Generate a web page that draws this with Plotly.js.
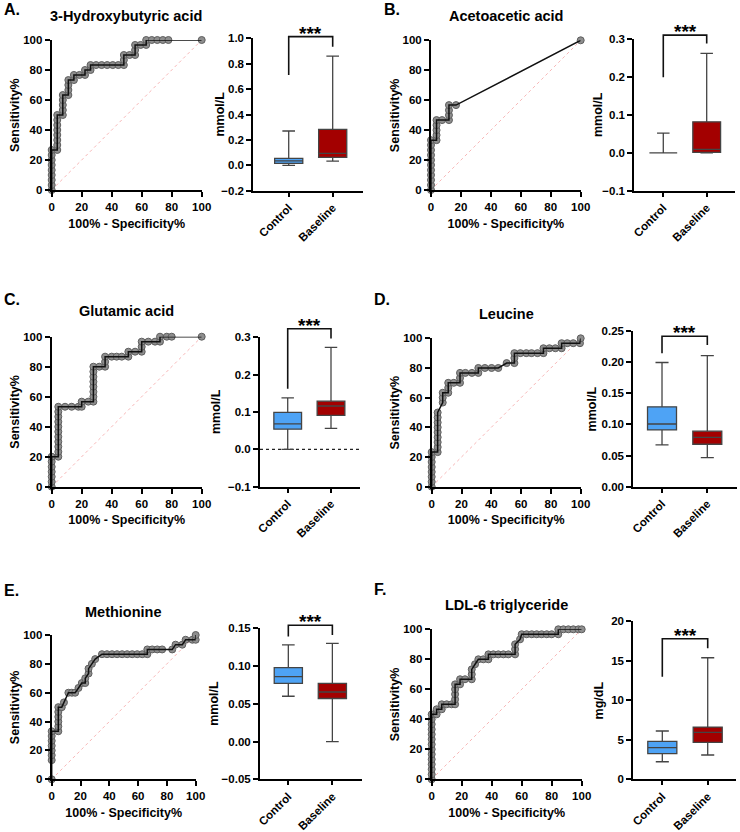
<!DOCTYPE html>
<html><head><meta charset="utf-8">
<script src="https://cdn.plot.ly/plotly-3.0.1.min.js"></script>
<style>html,body{margin:0;padding:0;background:#fff}#chart{width:740px;height:832px}</style>
</head><body><div id="chart"></div>
<script>
// ---------------- DATA ----------------
const panelLetters = ['A.', 'B.', 'C.', 'D.', 'E.', 'F.'];
const panelTitles = ['3-Hydroxybutyric acid', 'Acetoacetic acid', 'Glutamic acid', 'Leucine', 'Methionine', 'LDL-6 triglyceride'];
const boxUnits = ['mmol/L', 'mmol/L', 'mmol/L', 'mmol/L', 'mmol/L', 'mg/dL'];
const groups = ['Control', 'Baseline'];
const rocXTitle = '100% - Specificity%';
const rocYTitle = 'Sensitivity%';
const sigLabel = '***';
const refLine = [0, 100];

// ROC curves: [100% - Specificity%, Sensitivity%]
const rocA = [[0,0],[0,3.3],[0,6.7],[0,10],[0,13.3],[0,16.7],[0,20],[0,23.3],[0,26.7],
  [3.7,26.7],[3.7,30],[3.7,33.3],[3.7,36.7],[3.7,40],[3.7,43.3],[3.7,46.7],[3.7,50],
  [7.4,50],[7.4,53.3],[7.4,56.7],[7.4,60],[7.4,63.3],
  [11.1,63.3],[11.1,66.7],[11.1,70],[11.1,73.3],
  [14.8,73.3],[14.8,76.7],[18.5,76.7],[22.2,76.7],[22.2,80],[25.9,80],[25.9,83.3],
  [29.6,83.3],[33.3,83.3],[37,83.3],[40.7,83.3],[44.4,83.3],[48.1,83.3],[48.1,86.7],[48.1,90],
  [51.9,90],[55.6,90],[55.6,93.3],[55.6,96.7],[59.3,96.7],[63,96.7],[63,100],
  [66.7,100],[70.4,100],[74.1,100],[77.8,100],[100,100]];
const rocB = [[0,0],[0,3.3],[0,6.7],[0,10],[0,13.3],[0,16.7],[0,20],[0,23.3],[0,26.7],[0,30],[0,33.3],
  [3.7,33.3],[3.7,36.7],[3.7,40],[3.7,43.3],[3.7,46.7],
  [7.4,46.7],[12,46.7],[12,50],[12,53.3],[12,56.7],[16.7,56.7],[100,100]];
const rocC = [[0,0],[0,3.3],[0,6.7],[0,10],[0,13.3],[0,16.7],[0,20],
  [4.4,20],[4.4,23.3],[4.4,26.7],[4.4,30],[4.4,33.3],[4.4,36.7],[4.4,40],[4.4,43.3],[4.4,46.7],[4.4,50],[4.4,53.3],
  [8.9,53.3],[13.3,53.3],[17.8,53.3],[20,53.3],[20,56.7],[24.4,56.7],
  [27.8,56.7],[27.8,60],[27.8,63.3],[27.8,66.7],[27.8,70],[27.8,73.3],[27.8,76.7],[27.8,80],
  [31.7,80],[35.6,80],[35.6,83.3],[35.6,86.7],[40,86.7],[43.3,86.7],[46.7,86.7],[51.1,86.7],[51.1,90],
  [55.6,90],[60,90],[60,93.3],[60,96.7],[64.4,96.7],[68.9,96.7],[72.2,96.7],[72.2,100],
  [76.7,100],[80,100],[100,100]];
const rocD = [[0,0],[0,3.3],[0,6.7],[0,10],[0,13.3],[0,16.7],[0,20],[0,23.3],
  [4,23.3],[4,26.7],[4,30],[4,33.3],[4,36.7],[4,40],[4,43.3],[4,46.7],[4,50],
  [7.4,56.7],[7.4,60],[7.4,63.3],[11.1,63.3],[11.1,66.7],[11.1,70],
  [14.8,70],[19,70],[19,73.3],[19,76.7],[22.6,76.7],[27,76.7],[31.3,76.7],[31.3,80],
  [35.7,80],[40.2,80],[44.7,80],[50.3,83.3],[55.5,83.3],[55.5,86.7],[55.5,90],
  [59.5,90],[63.5,90],[67,90],[71,90],[75,90],[75,93.3],
  [79,93.3],[83,93.3],[87.2,93.3],[87.2,96.7],[91,96.7],[95,96.7],[99.5,96.7],[100,100]];
const rocE = [[0,0],[0,13.3],[0,16.7],[0,20],[0,23.3],[0,26.7],[0,30],[0,33.3],
  [4.6,33.3],[4.6,36.7],[4.6,40],[4.6,43.3],[4.6,46.7],[4.6,50],
  [7,50],[8.5,53.3],[11.6,60],[14,60],[16.3,60],[18.6,63.3],[20.9,66.7],[23.3,66.7],[23.3,70],
  [25.6,73.3],[25.6,76.7],[27.9,80],[30.2,83.3],[34.9,86.7],
  [38.4,86.7],[41.9,86.7],[45.4,86.7],[48.9,86.7],[52.4,86.7],[55.9,86.7],[59.4,86.7],[62.9,86.7],[66.4,86.7],[66.4,90],
  [69.8,90],[73.3,90],[76.7,90],[83.7,90],[86,93.3],[90.7,93.3],[93,96.7],[97.7,96.7],[100,96.7],[100,100]];
const rocF = [[0,0],[0,3.3],[0,6.7],[0,10],[0,13.3],[0,16.7],[0,20],[0,23.3],[0,26.7],[0,30],[0,33.3],[0,36.7],[0,40],[0,43.3],
  [3.3,43.3],[3.3,46.7],[6.7,46.7],[6.7,50],[10,50],[13.3,50],
  [15.6,50],[15.6,53.3],[15.6,56.7],[15.6,60],[15.6,63.3],[18.9,63.3],[18.9,66.7],[22.2,66.7],
  [26.7,66.7],[26.7,70],[26.7,73.3],[28.9,76.7],[31.1,80],[34.4,80],[37.8,80],[37.8,83.3],
  [41.1,83.3],[44.4,83.3],[47.8,83.3],[51.1,83.3],[55.6,83.3],[55.6,86.7],[55.6,90],[58.9,93.3],[60,96.7],
  [63.3,96.7],[66.7,96.7],[70,96.7],[73.3,96.7],[76.7,96.7],[80,96.7],[84.4,96.7],[84.4,100],
  [87.8,100],[91.1,100],[94.4,100],[97.8,100],[100,100]];

// Box plot summaries [Control, Baseline]
const q1A = [0.015, 0.063], medA = [0.035, 0.094], q3A = [0.055, 0.283], minA = [0.0, 0.033], maxA = [0.27, 0.86];
const q1B = [0.0, 0.001], medB = [0.0, 0.009], q3B = [0.0, 0.082], minB = [0.0, 0.0], maxB = [0.052, 0.263];
const q1C = [0.054, 0.091], medC = [0.068, 0.116], q3C = [0.099, 0.129], minC = [0.0, 0.056], maxC = [0.138, 0.273];
const q1D = [0.091, 0.068], medD = [0.1005, 0.079], q3D = [0.128, 0.089], minD = [0.067, 0.0465], maxD = [0.199, 0.21];
const q1E = [0.077, 0.057], medE = [0.086, 0.0656], q3E = [0.098, 0.077], minE = [0.060, 0.0], maxE = [0.128, 0.130];
const q1F = [3.24, 4.67], medF = [4.0, 5.94], q3F = [4.8, 6.6], minF = [2.22, 3.07], maxF = [6.1, 15.36];

// Significance brackets [left leg bottom, top, right leg bottom]
const bracketA = [0.711, 1.013, 0.934];
const bracketB = [0.200, 0.311, 0.289];
const bracketC = [0.162, 0.323, 0.297];
const bracketD = [0.2137, 0.241, 0.227];
const bracketE = [0.139, 0.154, 0.141];
const bracketF = [12.97, 17.76, 16.55];

// Box y axes: ranges, tick step, format
const boxYRanges = [[-0.2, 1.0], [-0.1, 0.3], [-0.1, 0.3], [0, 0.25], [-0.05, 0.15], [0, 20]];
const boxYDticks = [0.2, 0.1, 0.1, 0.05, 0.05, 5];
const boxYFormats = ['.1f', '.1f', '.1f', '.2f', '.2f', 'd'];
const rocTicks = [0, 20, 40, 60, 80, 100];

// ---------------- LAYOUT GEOMETRY (pixels) ----------------
const W = 740, H = 832;
const FONT = "'Liberation Sans', Arial, Helvetica, sans-serif";
const rocGeom = [[51.7,201.7,40,190],[431,580.7,40.3,190],[51.7,201.7,336.7,486.7],[431.7,580.7,338.3,486.7],[51.7,195.7,635,779.3],[431.7,581.7,629.3,779.3]];
const boxGeom = [[253.3,363,38.3,190.7],[634.3,735,39.3,190.7],[260,360,337.3,486.7],[633.3,736.7,330.7,486.7],[260,361.7,628.3,779.3],[633.3,736,621,779.3]];
const catRanges = [[-0.805,1.689],[-0.668,1.652],[-0.64,1.67],[-0.634,1.649],[-0.643,1.666],[-0.639,1.623]];
const letterPos = [[2,10],[381.7,9],[1.7,299],[371.7,299],[1.7,590],[371.7,589]];
const titlePos = [[126.3,15.5],[506.3,15.5],[126.7,311.3],[506.3,313.8],[123.7,611.7],[506.8,605]];
const rocYTitleX = [15, 395, 15, 395, 15, 395];
const boxYTitleX = [220, 598, 216, 591.7, 214, 599.3];
const BRACKET_EXT = 36; // extra px above each box panel for the bracket layer

const rocs = [rocA, rocB, rocC, rocD, rocE, rocF];
const stats = [
  [q1A, medA, q3A, minA, maxA], [q1B, medB, q3B, minB, maxB], [q1C, medC, q3C, minC, maxC],
  [q1D, medD, q3D, minD, maxD], [q1E, medE, q3E, minE, maxE], [q1F, medF, q3F, minF, maxF]];
const brackets = [bracketA, bracketB, bracketC, bracketD, bracketE, bracketF];
const boxFill = ['#4EA3F5', '#A30000'];

function xd(a, b) { return [a / W, b / W]; }
function yd(top, bot) { return [1 - bot / H, 1 - top / H]; }

const tickFont = {family: FONT, size: 11.5, color: '#000', weight: 'bold'};
const axTitleFont = {family: FONT, size: 12.5, color: '#000', weight: 'bold'};
function baseAxis() {
  return {showline: true, linecolor: '#000', linewidth: 2, ticks: 'outside', ticklen: 5, tickwidth: 2,
    tickcolor: '#000', showgrid: false, zeroline: false, tickfont: tickFont, fixedrange: true};
}

const data = [];
const layout = {width: W, height: H, margin: {l: 0, r: 0, t: 0, b: 0}, paper_bgcolor: '#fff', plot_bgcolor: 'rgba(0,0,0,0)',
  showlegend: false, annotations: [], shapes: []};

for (let p = 0; p < 6; p++) {
  const ri = 2 * p + 1, bi = 2 * p + 2, oi = 13 + p;
  const rx = 'x' + ri, ry = 'y' + ri, bx = 'x' + bi, by = 'y' + bi, oy = 'y' + oi;
  const rxk = 'xaxis' + ri, ryk = 'yaxis' + ri, bxk = 'xaxis' + bi, byk = 'yaxis' + bi, oyk = 'yaxis' + oi;
  const roc = rocs[p];
  const rxs = roc.map(d => d[0]), rys = roc.map(d => d[1]);

  // reference diagonal
  data.push({type: 'scatter', mode: 'lines', x: refLine, y: refLine, xaxis: rx, yaxis: ry,
    line: {color: '#F5A5A5', width: 0.8, dash: 'dot'}, hoverinfo: 'skip'});
  // markers then line on top
  data.push({type: 'scatter', mode: 'markers', x: rxs, y: rys, xaxis: rx, yaxis: ry, cliponaxis: false,
    marker: {size: 7, color: '#8E8E8E', line: {color: '#5E5E5E', width: 1}}});
  data.push({type: 'scatter', mode: 'lines', x: rxs, y: rys, xaxis: rx, yaxis: ry, cliponaxis: false,
    line: {color: '#111', width: 1.5}});

  const g = rocGeom[p];
  layout[rxk] = Object.assign(baseAxis(), {domain: xd(g[0], g[1]), anchor: ry, range: [0, 100], tickmode: 'array', tickvals: rocTicks,
    title: {text: rocXTitle, font: axTitleFont, standoff: 7}});
  layout[ryk] = Object.assign(baseAxis(), {domain: yd(g[2], g[3]), anchor: rx, range: [0, 100], tickmode: 'array', tickvals: rocTicks});
  layout.annotations.push({xref: 'paper', yref: 'paper', x: rocYTitleX[p] / W, y: 1 - (g[2] + g[3]) / 2 / H,
    xanchor: 'center', yanchor: 'middle', textangle: -90, text: rocYTitle, showarrow: false, font: axTitleFont});

  // box plots
  const s = stats[p];
  for (let k = 0; k < 2; k++) {
    data.push({type: 'box', x: [groups[k]], q1: [s[0][k]], median: [s[1][k]], q3: [s[2][k]],
      lowerfence: [s[3][k]], upperfence: [s[4][k]], xaxis: bx, yaxis: by, boxpoints: false,
      width: 0.64, whiskerwidth: 0.45, fillcolor: boxFill[k], line: {color: '#444', width: 1.3}, hoverinfo: 'skip'});
  }
  const bg = boxGeom[p];
  const yr = boxYRanges[p];
  const ext = BRACKET_EXT * (yr[1] - yr[0]) / (bg[3] - bg[2]);
  layout[bxk] = Object.assign(baseAxis(), {domain: xd(bg[0], bg[1]), anchor: by, type: 'category',
    categoryorder: 'array', categoryarray: groups, range: catRanges[p], tickangle: -45,
    tickfont: {family: FONT, size: 11.5, color: '#000', weight: 'bold'}, ticklen: 4});
  layout[byk] = Object.assign(baseAxis(), {domain: yd(bg[2], bg[3]), anchor: bx, range: yr,
    dtick: boxYDticks[p], tick0: 0, tickformat: boxYFormats[p]});
  // invisible taller layer with identical scale, so the bracket can rise above the axis top
  layout[oyk] = {domain: yd(bg[2] - BRACKET_EXT, bg[3]), anchor: bx, range: [yr[0], yr[1] + ext], visible: false, fixedrange: true};
  layout.annotations.push({xref: 'paper', yref: 'paper', x: boxYTitleX[p] / W, y: 1 - (bg[2] + bg[3]) / 2 / H,
    xanchor: 'center', yanchor: 'middle', textangle: -90, text: boxUnits[p], showarrow: false, font: axTitleFont});

  const br = brackets[p];
  data.push({type: 'scatter', mode: 'lines', x: [groups[0], groups[0], groups[1], groups[1]], y: [br[0], br[1], br[1], br[2]],
    xaxis: bx, yaxis: oy, line: {color: '#111', width: 1.6}, hoverinfo: 'skip'});

  // significance stars
  layout.annotations.push({xref: bx, yref: oy, x: 0.5, y: br[1], text: sigLabel, showarrow: false,
    yanchor: 'bottom', yshift: -9, font: {family: FONT, size: 19, color: '#000', weight: 'bold'}});
  // panel letter and title
  layout.annotations.push({xref: 'paper', yref: 'paper', x: letterPos[p][0] / W, y: 1 - letterPos[p][1] / H,
    xanchor: 'left', yanchor: 'middle', text: panelLetters[p], showarrow: false,
    font: {family: FONT, size: 16, color: '#000', weight: 'bold'}});
  layout.annotations.push({xref: 'paper', yref: 'paper', x: titlePos[p][0] / W, y: 1 - titlePos[p][1] / H,
    xanchor: 'center', yanchor: 'middle', text: panelTitles[p], showarrow: false,
    font: {family: FONT, size: 14.5, color: '#000', weight: 'bold'}});
}

// dotted zero line in panel C box plot
layout.shapes.push({type: 'line', xref: 'x6 domain', yref: 'y6', x0: 0, x1: 1, y0: 0, y1: 0,
  line: {color: '#222', width: 1.3, dash: 'dot'}, layer: 'below'});

Plotly.newPlot('chart', data, layout, {staticPlot: true, displayModeBar: false});
</script>
</body></html>
